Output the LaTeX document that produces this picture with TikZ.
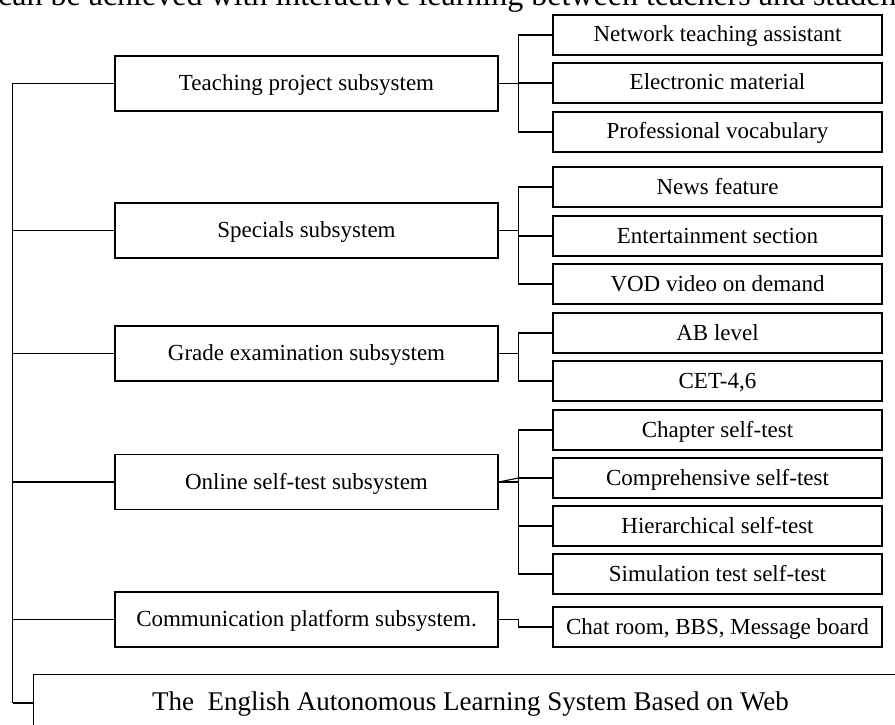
\documentclass[tikz,border=0pt]{standalone}
\usepackage{fontspec}
\setmainfont{Liberation Serif}
\tikzset{
	subsystem/.style={draw, line width=1.1pt, minimum width=383pt, minimum height=55pt, inner sep=0pt, text height=14pt, text depth=0pt, font=\fontsize{23}{27}\selectfont},
	module/.style={draw, line width=1.1pt, minimum width=329pt, minimum height=40pt, inner sep=0pt, text height=14pt, text depth=0pt, font=\fontsize{23}{27}\selectfont},
	link/.style={line width=1.1pt}
}

\begin{document}
\begin{tikzpicture}[x=1pt, y=-1pt]
		\useasboundingbox (0, 0) rectangle (895, 725);
		\clip (0, 0) rectangle (895, 725);

		\node[anchor=base west, inner sep=0pt, font=\fontsize{32}{38}\selectfont] (runin) at (-2, 6) {can be achieved with interactive learning between teachers and students};

		\node[subsystem] (teach)	at (306.5, 83.5) {Teaching project subsystem};
		\node[subsystem] (spec)		at (306.5, 230.5) {Specials subsystem};
		\node[subsystem] (grade)	at (306.5, 353.5) {Grade examination subsystem};
		\node[subsystem] (online)	at (306.5, 482) {Online self-test subsystem};
		\node[subsystem] (comm)		at (306.5, 619.5) {Communication platform subsystem.};

		\foreach \name/\y/\txt in {net/35/Network teaching assistant, elec/83/Electronic material, prof/132/Professional vocabulary,
				news/187/News feature, ent/236/Entertainment section, vod/284/VOD video on demand,
				ab/333/AB level,
				chap/430/Chapter self-test, comp/478/Comprehensive self-test, hier/526/Hierarchical self-test, sim/574/Simulation test self-test} {
			\node[module] (\name) at (717.5, \y) {\txt};
		}
		\node[module] (cet)		at (717.5, 381) {CET-4,6};
		\node[module] (chat)	at (717.5, 627) {Chat room, BBS, Message board};

		\node[draw, line width=1.1pt, anchor=north west, minimum width=874pt, minimum height=56pt, inner sep=0pt, text height=16pt, text depth=0pt, font=\fontsize{27}{32}\selectfont] (web) at (33, 674) {The\ \ English Autonomous Learning System Based on Web};

		\coordinate (trunk) at (12.5, 0);
		\coordinate (bar) at (518.5, 0);

		\draw[link]	(teach.west) to (teach.west -| trunk) |- (web.west);
		\draw[line width=2pt]	(web.west -| trunk) to (web.west);
		\foreach \s in {spec, grade, online, comm} {
			\draw[link]	(\s.west) to (\s.west -| trunk);
		}

		\draw[link]	(teach.east) to (teach.east -| bar);
		\draw[link]	(net.west) -| (bar |- prof.west) to (prof.west);
		\draw[link]	(elec.west) to (elec.west -| bar);

		\draw[link]	(spec.east) to (spec.east -| bar);
		\draw[link]	(news.west) -| (bar |- vod.west) to (vod.west);
		\draw[link]	(ent.west) to (ent.west -| bar);

		\draw[link]	(grade.east) to (grade.east -| bar);
		\draw[link]	(ab.west) -| (bar |- cet.west) to (cet.west);

		\draw[link]	(online.east) to (bar |- comp.west);
		\draw[link]	(online.east) to (online.east -| bar);
		\draw[link]	(chap.west) -| (bar |- sim.west) to (sim.west);
		\foreach \m in {comp, hier} {
			\draw[link]	(\m.west) to (\m.west -| bar);
		}

		\draw[link]	(comm.east) to (comm.east -| bar) |- (chat.west);
	\end{tikzpicture}
\end{document}
